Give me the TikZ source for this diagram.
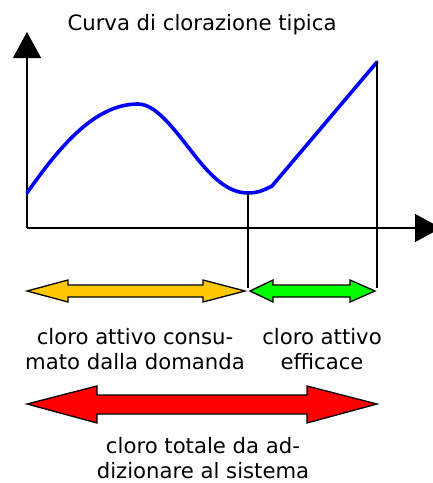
\documentclass[tikz,border=0pt]{standalone}
\usepackage{fontspec}
\setmainfont{DejaVu Sans}
\usepackage{tikz}
\usetikzlibrary{arrows.meta,positioning}

\definecolor{consumed}{RGB}{255,200,0}
\definecolor{effective}{RGB}{0,255,0}
\definecolor{total}{RGB}{255,0,0}

\begin{document}
\begin{tikzpicture}[
		x=1pt, y=-1pt,
		axis/.style={
			draw,
			line width=1.4pt,
			-{Triangle[length=26pt,width=28pt]}
			},
		marker/.style={
			draw,
			line width=1.3pt
			},
		curve/.style={
			draw=blue,
			line width=3.6pt,
			line join=round,
			line cap=round
			},
		band/.style={
			draw=black,
			line width=1.3pt,
			line join=miter
			},
		textlabel/.style={
			font=\fontsize{21.2}{24.5}\selectfont,
			align=center,
			inner sep=0pt,
			anchor=base
			}]
	    \clip (0,0) rectangle (433,483);
	    \useasboundingbox (0,0) rectangle (433,483);

	    % Axes
	    \coordinate (origin) at (27,228);
	    \coordinate (ytip) at (27,32);
	    \coordinate (xtip) at (441,228);
	    \path [axis] (origin) -- (ytip);
	    \path [axis] (origin) -- (xtip);

	    % Title
	    \node [textlabel] (title) at (202,30) {Curva di clorazione tipica};

	    % Chlorination curve
	    \coordinate (start) at (27,193);
	    \coordinate (peak) at (138,104);
	    \coordinate (bend) at (200,162);
	    \coordinate (low) at (248,193);
	    \coordinate (knee) at (272,186);
	    \coordinate (high) at (377,62);
	    \path [curve] (start) .. controls (60,146) and (95,104) .. (peak)
	        .. controls (158,104) and (178,135) .. (bend)
	        .. controls (215,180) and (230,193) .. (low)
	        .. controls (258,193) and (264,190) .. (knee) -- (high);

	    % Markers
	    \coordinate (lowend) at (248,288);
	    \coordinate (highend) at (377,288);
	    \path [marker] (low) -- (lowend);
	    \path [marker] (high) -- (highend);

	    % Double arrows
	    \path [band, fill=consumed] (27,291) -- (68,280) -- (68,285) -- (203,285) -- (203,280) -- (245,291)
	        -- (203,302) -- (203,297) -- (68,297) -- (68,302) -- cycle;
	    \path [band, fill=effective] (250,291) -- (273,280) -- (273,285) -- (350,285) -- (350,280) -- (375,291)
	        -- (350,302) -- (350,297) -- (273,297) -- (273,302) -- cycle;
	    \path [band, fill=total] (27,404) -- (97,386) -- (97,395) -- (307,395) -- (307,386) -- (377,404)
	        -- (307,423) -- (307,414) -- (97,414) -- (97,423) -- cycle;

	    % Labels
	    \node [textlabel] (consumedtext) at (135,369) {cloro attivo consu-\\mato dalla domanda};
	    \node [textlabel] (effectivetext) at (322,369) {cloro attivo\\efficace};
	    \node [textlabel] (totaltext) at (203,478) {cloro totale da ad-\\dizionare al sistema};
	\end{tikzpicture}
\end{document}
